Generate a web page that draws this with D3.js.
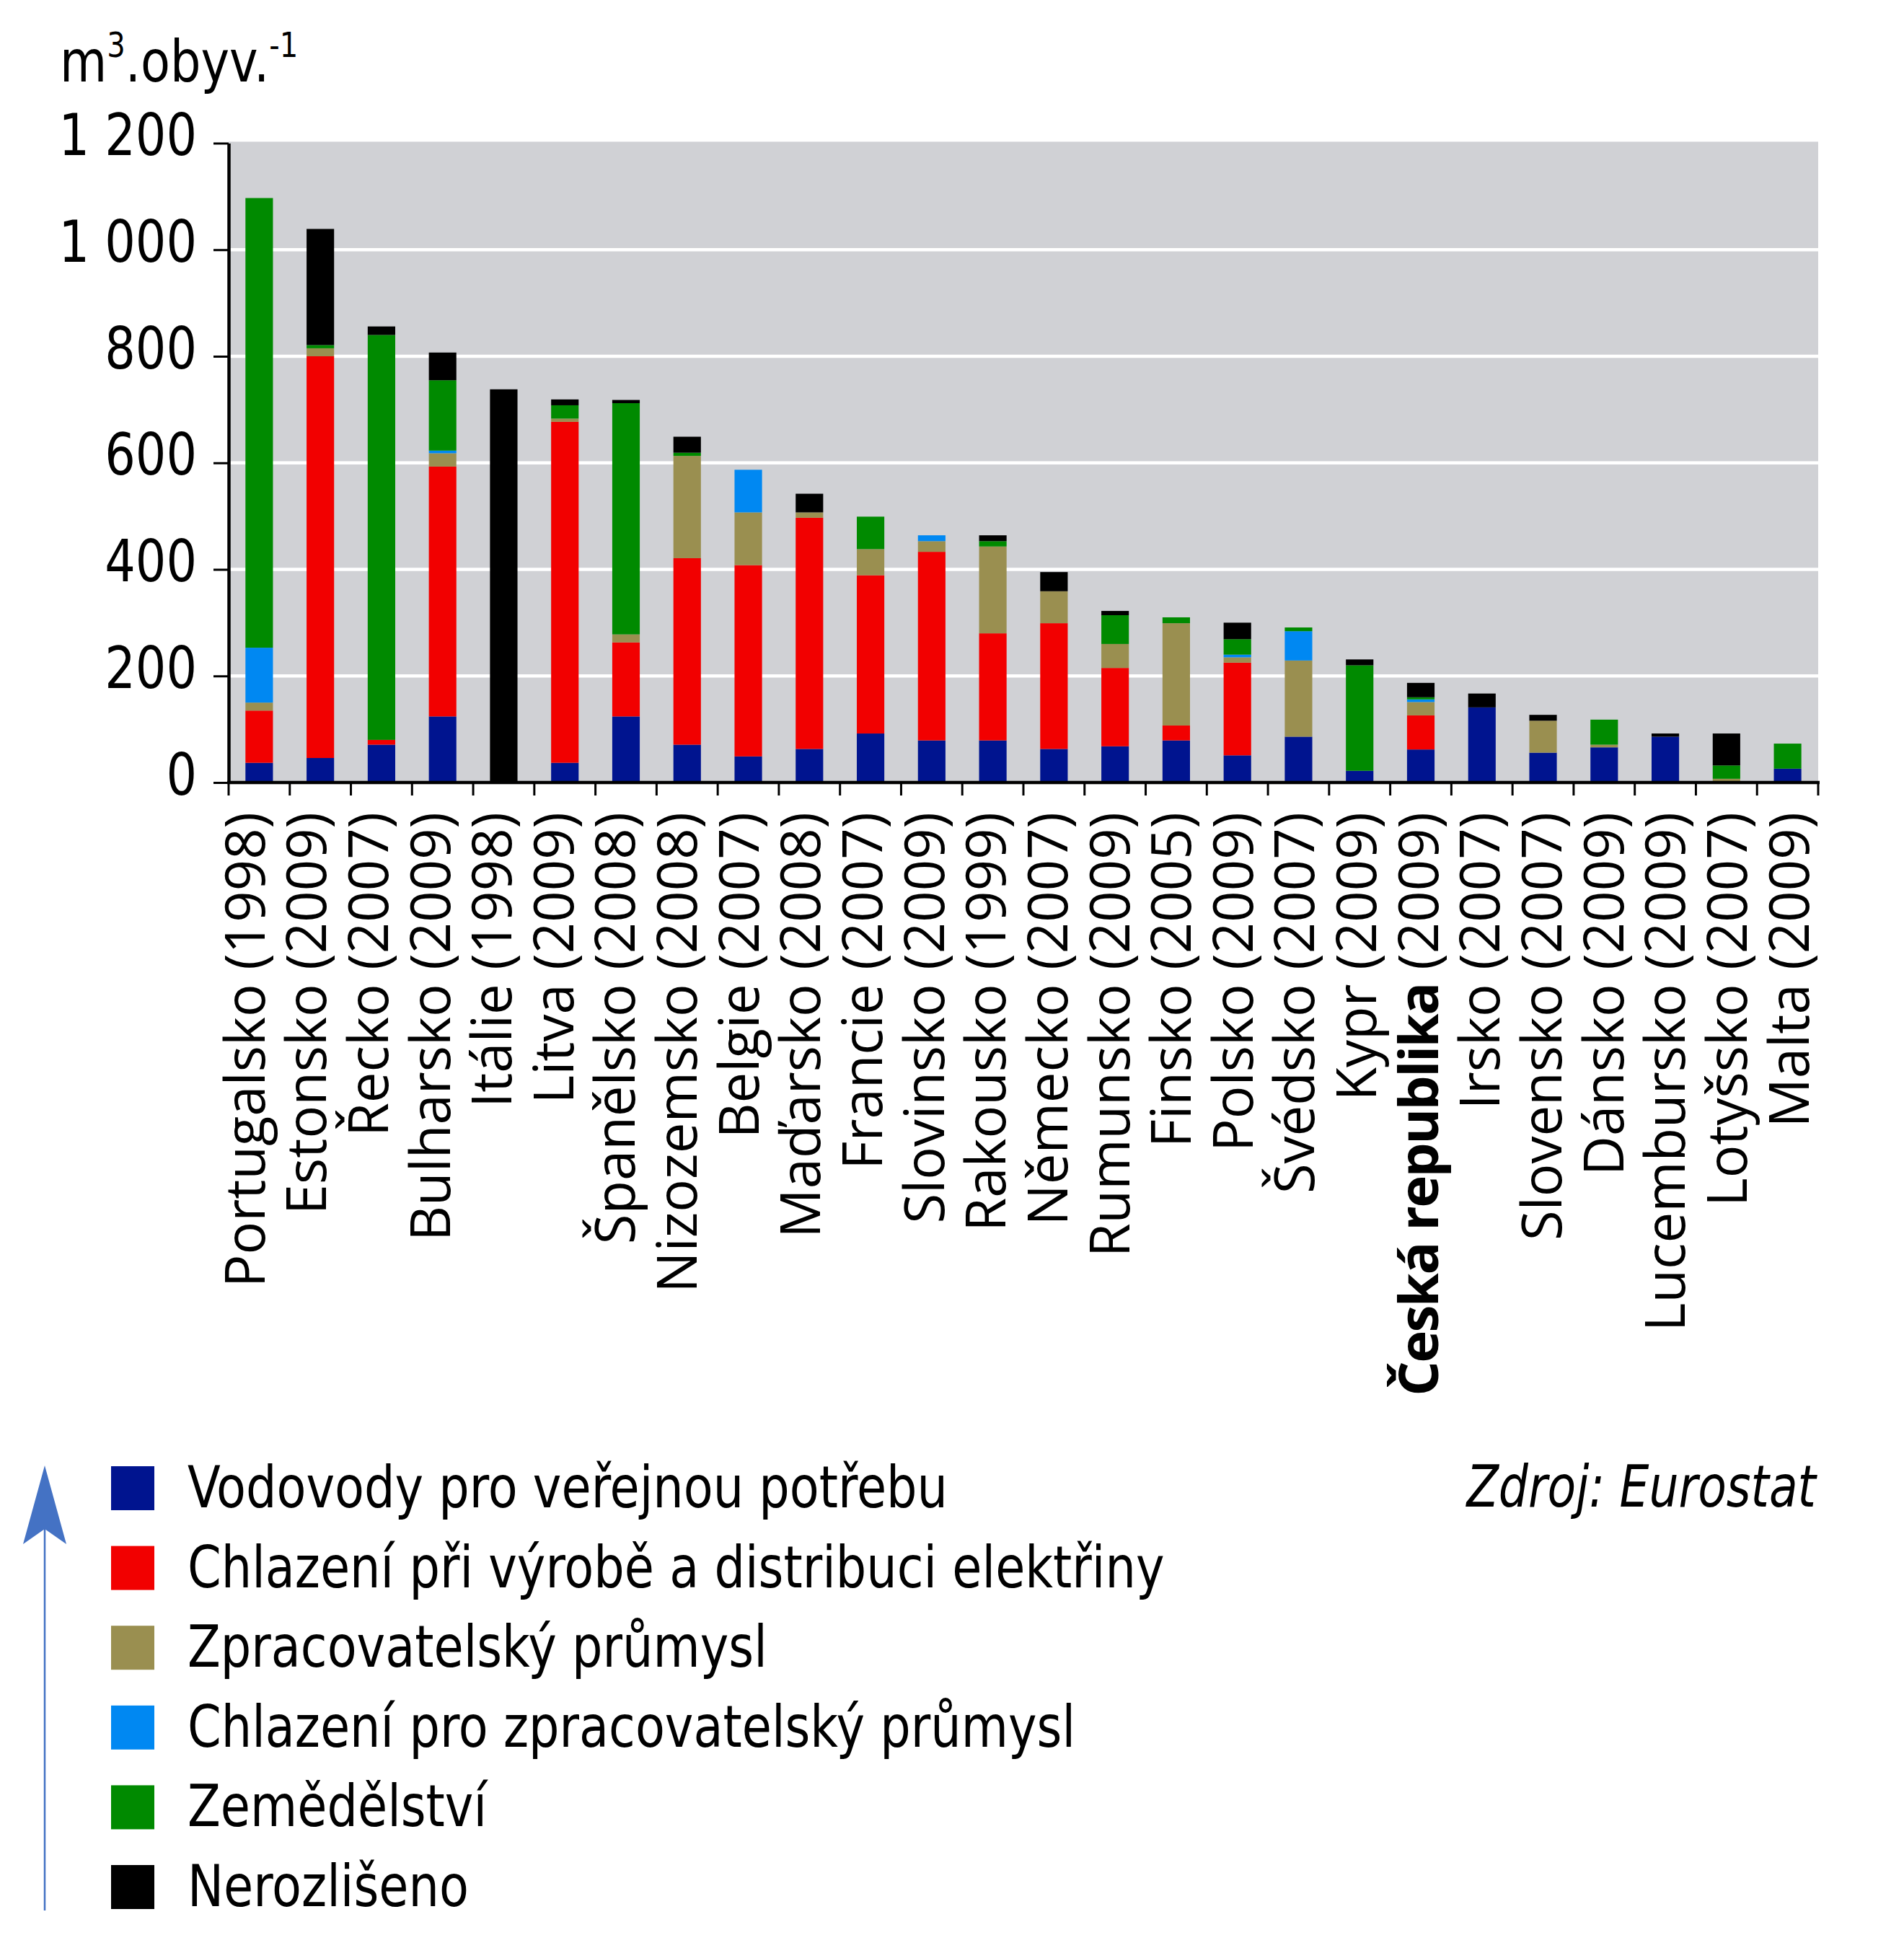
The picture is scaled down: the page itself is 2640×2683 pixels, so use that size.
<!DOCTYPE html>
<html>
<head>
<meta charset="utf-8">
<script src="https://cdn.jsdelivr.net/npm/d3@7"></script>
<style>
  html, body { margin: 0; padding: 0; background: #ffffff; }
  svg { display: block; }
  .xlab { font-family: "Open Sans", "Noto Sans", sans-serif; }
</style>
</head>
<body>
<svg id="chart" width="2640" height="2683"></svg>
<script>
// ---------- DATA ----------
const categories = ["Portugalsko","Estonsko","Řecko","Bulharsko","Itálie","Litva","Španělsko","Nizozemsko","Belgie","Maďarsko","Francie","Slovinsko","Rakousko","Německo","Rumunsko","Finsko","Polsko","Švédsko","Kypr","Česká republika","Irsko","Slovensko","Dánsko","Lucembursko","Lotyšsko","Malta"];
const years = ["1998","2009","2007","2009","1998","2009","2008","2008","2007","2008","2007","2009","1999","2007","2009","2005","2009","2007","2009","2009","2007","2007","2009","2009","2007","2009"];
const highlight = "Česká republika";

const seriesNames = ["Vodovody pro veřejnou potřebu","Chlazení při výrobě a distribuci elektřiny","Zpracovatelský průmysl","Chlazení pro zpracovatelský průmysl","Zemědělství","Nerozlišeno"];
const seriesColors = ["#00148f","#f20000","#9a8f50","#0088f2","#008a00","#000000"];

const vodovody     = [37,46,71,124,0,37,124,71,49,63,92,79,79,63,68,79,51,86,22,62,141,56,66,86,0,26];
const chlazeniElek = [98,754,9,469,0,640,139,350,359,434,297,354,201,236,147,28,174,0,0,64,0,0,0,0,0,0];
const prumysl      = [15,15,0,25,0,6,15,192,99,10,49,20,163,60,45,192,10,143,0,25,0,60,5,0,7,0];
const chlazeniPrum = [103,0,0,5,0,0,0,0,80,0,0,11,0,0,0,0,5,55,0,5,0,0,0,0,0,0];
const zemedelstvi  = [844,6,760,132,0,25,434,6,0,0,61,0,10,0,54,11,29,7,198,4,0,0,47,0,25,47];
const nerozliseno  = [0,218,16,52,738,11,6,30,0,35,0,0,11,36,8,0,31,0,11,27,26,11,0,6,60,0];

const tickValues = [0,200,400,600,800,1000,1200];
const tickLabels = ["0","200","400","600","800","1 000","1 200"];
const gridValues = [200,400,600,800,1000];
const sourceText = "Zdroj: Eurostat";

// ---------- BUILD TABLE ----------
const seriesArrays = [vodovody, chlazeniElek, prumysl, chlazeniPrum, zemedelstvi, nerozliseno];
const keys = seriesNames;
const table = categories.map((c, i) => {
  const row = { cat: c };
  keys.forEach((k, j) => row[k] = seriesArrays[j][i]);
  return row;
});
const stacked = d3.stack().keys(keys)(table);

// ---------- LAYOUT ----------
const svg = d3.select("#chart");
const L = 317, R = 2521, T = 198.5, B = 1085;
const narrowFont = '"Liberation Sans Narrow", "DejaVu Sans Condensed", "DejaVu Sans", sans-serif';
const squeeze = 0.93;

const x = d3.scaleBand().domain(categories).range([L, R]).paddingInner(0.55).paddingOuter(0.275);
const y = d3.scaleLinear().domain([0, 1200]).range([B, T]);
const labelX = d3.scalePoint().domain(categories).range([340, 2481]);

// plot background
svg.append("rect").attr("x", L).attr("y", T - 2).attr("width", R - L).attr("height", B - T + 2).attr("fill", "#d0d1d5");

// gridlines
svg.append("g").selectAll("line").data(gridValues).join("line")
  .attr("x1", L).attr("x2", R)
  .attr("y1", d => y(d)).attr("y2", d => y(d))
  .attr("stroke", "#ffffff").attr("stroke-width", 4.5);

// bars
svg.append("g").selectAll("g").data(stacked).join("g")
  .attr("fill", (d, i) => seriesColors[i])
  .selectAll("rect").data(d => d).join("rect")
  .attr("x", d => x(d.data.cat))
  .attr("width", x.bandwidth())
  .attr("y", d => y(d[1]))
  .attr("height", d => Math.max(0, y(d[0]) - y(d[1])));

// y axis
const yAxis = d3.axisLeft(y).tickValues(tickValues)
  .tickFormat((d, i) => tickLabels[i]).tickSize(21).tickPadding(23 / squeeze + 21 * (1 / squeeze - 1)).tickSizeOuter(0);
const gy = svg.append("g").attr("transform", `translate(${L},0)`).call(yAxis);
gy.select(".domain").attr("stroke", "#000").attr("stroke-width", 4.5);
gy.selectAll(".tick line").attr("stroke", "#000").attr("stroke-width", 3);
gy.selectAll(".tick text").attr("font-family", narrowFont).attr("font-size", 80)
  .attr("fill", "#000").attr("dy", "0.2em").attr("transform", `scale(${squeeze},1)`);

// x axis line and ticks at band edges
const step = x.step();
const edges = categories.map(c => x(c) - (step - x.bandwidth()) / 2).concat([R]);
svg.append("line").attr("x1", L - 2).attr("x2", R + 2).attr("y1", B).attr("y2", B)
  .attr("stroke", "#000").attr("stroke-width", 4.5);
svg.append("g").selectAll("line").data(edges).join("line")
  .attr("x1", d => d).attr("x2", d => d).attr("y1", B).attr("y2", B + 18)
  .attr("stroke", "#000").attr("stroke-width", 3);

// x labels
const xl = svg.append("g").selectAll("text").data(categories).join("text")
  .attr("class", "xlab")
  .attr("transform", d => `translate(${labelX(d)},1126) rotate(-90)`)
  .attr("text-anchor", "end")
  .attr("dy", "0.35em")
  .attr("font-size", 76)
  .attr("fill", "#000");
xl.append("tspan")
  .attr("font-weight", d => d === highlight ? "bold" : "normal")
  .attr("letter-spacing", d => d === highlight ? "-2.5px" : null)
  .text(d => d);
xl.append("tspan").text((d, i) => " (" + years[i] + ")");

// y axis title
const title = svg.append("text").attr("transform", `translate(83,113) scale(${squeeze},1)`)
  .attr("font-family", narrowFont).attr("font-size", 80).attr("fill", "#000");
title.append("tspan").text("m");
title.append("tspan").attr("font-size", 48).attr("dy", -34).text("3");
title.append("tspan").attr("dy", 34).text(".obyv.");
title.append("tspan").attr("font-size", 48).attr("dy", -34).text("-1");

// legend
const lg = svg.append("g").selectAll("g").data(seriesNames).join("g")
  .attr("transform", (d, i) => `translate(154,${2033 + i * 110.6})`);
lg.append("rect").attr("width", 60).attr("height", 61).attr("fill", (d, i) => seriesColors[i]);
lg.append("text").attr("transform", `translate(106,57) scale(${squeeze},1)`)
  .attr("font-family", narrowFont).attr("font-size", 80).attr("fill", "#000")
  .text(d => d);

// arrow
svg.append("line").attr("x1", 62).attr("x2", 62).attr("y1", 2100).attr("y2", 2649)
  .attr("stroke", "#4472c4").attr("stroke-width", 2.5);
svg.append("path").attr("d", "M62,2032 L92,2141 L62,2120 L32,2141 Z").attr("fill", "#4472c4");

// source
svg.append("text").attr("transform", "translate(2518,2089) scale(0.9,1)").attr("text-anchor", "end")
  .attr("font-family", narrowFont).attr("font-style", "italic").attr("font-size", 80)
  .attr("fill", "#000").text(sourceText);
</script>
</body>
</html>
